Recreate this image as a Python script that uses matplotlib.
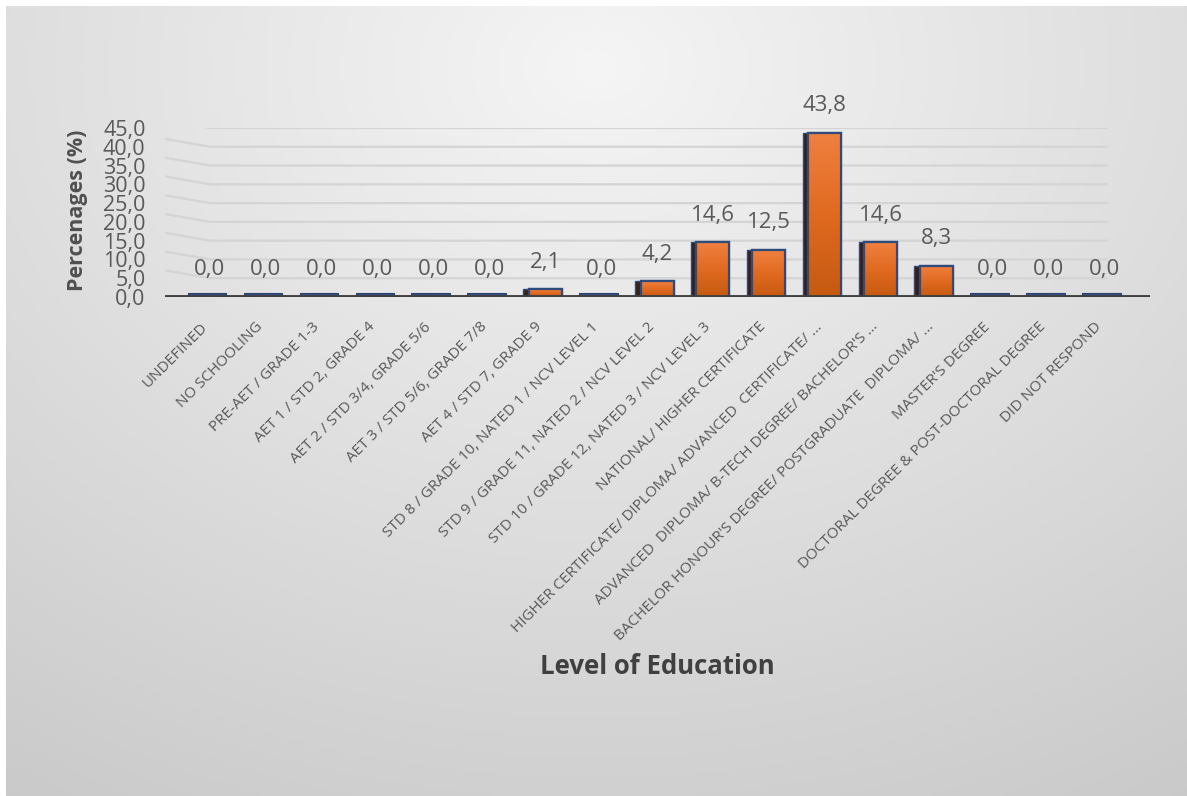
import numpy as np
import matplotlib
matplotlib.use("Agg")
import matplotlib.pyplot as plt
import matplotlib.transforms as mtransforms
from matplotlib.colors import LinearSegmentedColormap

categories = [
    "Undefined", "No Schooling", "Pre-AET / Grade 1-3", "AET 1 / Std 2, Grade 4",
    "AET 2 / Std 3/4, Grade 5/6", "AET 3 / Std 5/6, Grade 7/8", "AET 4 / Std 7, Grade 9",
    "Std 8 / Grade 10, NATED 1 / NCV Level 1", "Std 9 / Grade 11, NATED 2 / NCV Level 2",
    "Std 10 / Grade 12, NATED 3 / NCV Level 3", "National/ Higher Certificate",
    "Higher Certificate/ Diploma/ Advanced  Certificate/ …",
    "Advanced  Diploma/ B-Tech Degree/ Bachelor's …",
    "Bachelor Honour's Degree/ Postgraduate  Diploma/ …",
    "Master's Degree", "Doctoral Degree & Post-doctoral Degree", "Did not respond",
]
values = [0.0, 0.0, 0.0, 0.0, 0.0, 0.0, 2.1, 0.0, 4.2, 14.6, 12.5, 43.8, 14.6, 8.3, 0.0, 0.0, 0.0]
yticks = [0, 5, 10, 15, 20, 25, 30, 35, 40, 45]
y_title = "Percenages (%)"
x_title = "Level of Education"

FONT = "Open Sans"
W, H = 1187, 796
fig = plt.figure(figsize=(W / 100, H / 100), dpi=100, facecolor="white")

# background gradient panel
bg = fig.add_axes([6 / W, 0, 1 - 6 / W, 1 - 6 / H])
gx, gy = np.meshgrid(np.linspace(0, W, 300), np.linspace(0, H, 200))
dist = np.sqrt((gx - 593) ** 2 + (1.3 * (gy - 60)) ** 2)
shade = np.clip(0.96 - 1.5e-4 * dist, 0.77, 0.965)
bg.imshow(np.dstack([shade, shade, shade]), extent=[0, W, H, 0], aspect="auto")
bg.set_xlim(0, W)
bg.set_ylim(H, 0)
bg.axis("off")

ax = fig.add_axes([165 / W, 1 - 297 / H, (1150 - 165) / W, (297 - 128) / H])
ax.patch.set_alpha(0)
for s in ax.spines.values():
    s.set_visible(False)

n = len(values)
x = np.arange(n)
xl, xr = -0.805, 16.82
grid_end = 16.06

# gridlines with slight perspective slant at left
for t in yticks[1:]:
    ax.plot([xl, 0, grid_end], [t + 2.1, t, t], color="#d4d4d4", lw=1.6, zorder=1,
            solid_capstyle="butt")

w = 0.59
d = 0.1
edge = "#2f4b7c"
cmap = LinearSegmentedColormap.from_list("o", ["#c55a11", "#e06a20", "#f08040"])
grad = np.linspace(0, 1, 100).reshape(-1, 1)

for i, v in enumerate(values):
    # base slab
    ax.bar(i - d / 2, 1.0, width=w + d, color="#34508a", edgecolor="#2a3f6a", lw=0.8, zorder=2)
    if v > 0:
        ax.bar(i - w / 2 - d / 2, v, width=d, color="#3b1f10", edgecolor=edge, lw=1.0, zorder=3)
        front = ax.bar(i, v, width=w, color="#d9661f", edgecolor=edge, lw=1.6, zorder=4)[0]
        im = ax.imshow(grad, extent=[i - w / 2, i + w / 2, 0, v], origin="lower",
                       cmap=cmap, aspect="auto", zorder=4.5)
        im.set_clip_path(front)
        ax.bar(i, v, width=w, color="none", edgecolor=edge, lw=1.6, zorder=5)
    ax.annotate(f"{v:.1f}".replace(".", ","), (i, v), xytext=(0, 19.5),
                textcoords="offset points", ha="center", va="center",
                fontsize=16, color="#595959", family=FONT, annotation_clip=False)

ax.plot([xl, xr], [0, 0], color="#3f3f3f", lw=3.5, zorder=6, solid_capstyle="round")

ax.set_xlim(xl, xr)
ax.set_ylim(0, 45)
ax.set_yticks(yticks)
ax.set_yticklabels([f"{t:.1f}".replace(".", ",") for t in yticks], family=FONT,
                   fontsize=15.5, color="#595959")
ax.tick_params(axis="y", length=0, pad=14)

ax.set_xticks(x)
ax.set_xticklabels([c.upper() for c in categories], rotation=45, ha="right", va="center",
                   rotation_mode="anchor", family=FONT, fontsize=11, color="#595959")
ax.tick_params(axis="x", length=0, pad=20)
shift = mtransforms.ScaledTranslation(-5 / 100, 0, fig.dpi_scale_trans)
for lab in ax.get_xticklabels():
    lab.set_transform(lab.get_transform() + shift)

fig.text(78 / W, 1 - 210 / H, y_title, rotation=90, ha="center", va="center",
         fontsize=15.5, fontweight="bold", color="#505050", family=FONT)
fig.text(657 / W, 1 - 667 / H, x_title, ha="center", va="center",
         fontsize=18.5, fontweight="bold", color="#404040", family=FONT)

fig.savefig("out.png", dpi=100, facecolor="white")
